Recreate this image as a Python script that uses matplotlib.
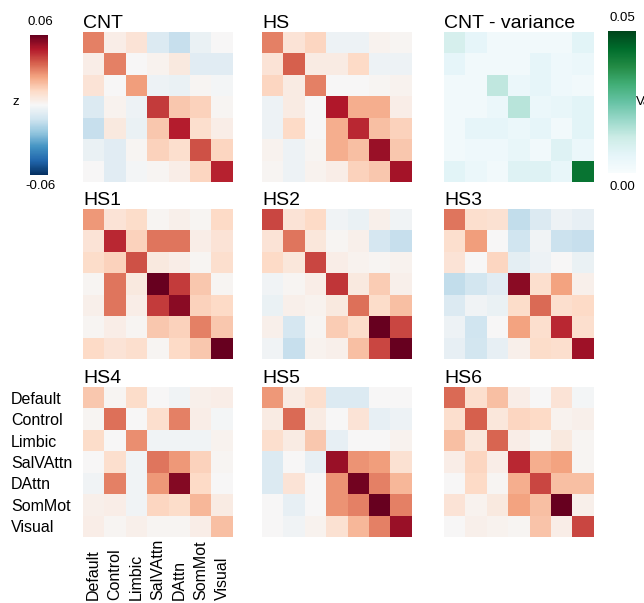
import numpy as np
import matplotlib
matplotlib.use("Agg")
import matplotlib.pyplot as plt

plt.rcParams['font.family'] = ['Liberation Sans', 'DejaVu Sans']

networks = ['Default', 'Control', 'Limbic', 'SalVAttn', 'DAttn', 'SomMot', 'Visual']

cnt = [
    [0.030, 0.004, 0.008, -0.008, -0.014, -0.004, 0.000],
    [0.004, 0.030, 0.000, 0.002, 0.006, -0.007, -0.007],
    [0.008, 0.000, 0.025, -0.003, -0.004, 0.001, -0.001],
    [-0.008, 0.002, -0.003, 0.042, 0.016, 0.014, 0.001],
    [-0.014, 0.006, -0.004, 0.016, 0.047, 0.010, 0.004],
    [-0.004, -0.007, 0.001, 0.014, 0.010, 0.038, 0.013],
    [0.000, -0.007, -0.001, 0.001, 0.004, 0.013, 0.046],
]
hs = [
    [0.030, 0.008, 0.013, -0.003, -0.003, 0.002, 0.001],
    [0.008, 0.036, 0.005, 0.005, 0.012, -0.003, -0.003],
    [0.013, 0.005, 0.030, 0.000, 0.000, 0.001, 0.002],
    [-0.003, 0.005, 0.000, 0.048, 0.022, 0.022, 0.004],
    [-0.003, 0.012, 0.000, 0.022, 0.045, 0.018, 0.014],
    [0.002, -0.003, 0.001, 0.022, 0.018, 0.052, 0.016],
    [0.001, -0.003, 0.002, 0.004, 0.014, 0.016, 0.050],
]
cnt_var = [
    [0.010, 0.006, 0.002, 0.002, 0.002, 0.002, 0.007],
    [0.006, 0.002, 0.002, 0.002, 0.006, 0.003, 0.004],
    [0.002, 0.002, 0.014, 0.004, 0.006, 0.003, 0.002],
    [0.002, 0.002, 0.004, 0.015, 0.004, 0.005, 0.007],
    [0.002, 0.006, 0.006, 0.004, 0.006, 0.002, 0.007],
    [0.002, 0.003, 0.003, 0.005, 0.002, 0.008, 0.004],
    [0.007, 0.004, 0.002, 0.008, 0.008, 0.005, 0.042],
]
hs1 = [
    [0.026, 0.008, 0.011, 0.001, 0.003, 0.001, 0.012],
    [0.008, 0.045, 0.014, 0.032, 0.032, 0.004, 0.008],
    [0.011, 0.014, 0.038, 0.006, 0.004, 0.001, 0.010],
    [0.001, 0.032, 0.006, 0.060, 0.042, 0.016, 0.001],
    [0.003, 0.032, 0.004, 0.042, 0.054, 0.014, 0.012],
    [0.001, 0.004, 0.001, 0.016, 0.014, 0.030, 0.016],
    [0.012, 0.008, 0.010, 0.001, 0.012, 0.016, 0.060],
]
hs2 = [
    [0.040, 0.008, 0.012, -0.002, -0.004, 0.003, -0.002],
    [0.008, 0.032, 0.007, 0.001, 0.003, -0.010, -0.014],
    [0.012, 0.007, 0.040, 0.004, 0.002, 0.001, 0.002],
    [-0.002, 0.001, 0.004, 0.043, 0.006, 0.015, 0.003],
    [-0.004, 0.003, 0.002, 0.006, 0.033, 0.011, 0.018],
    [0.003, -0.010, 0.001, 0.015, 0.011, 0.062, 0.040],
    [-0.002, -0.014, 0.002, 0.003, 0.018, 0.040, 0.062],
]
hs3 = [
    [0.032, 0.010, 0.009, -0.015, -0.008, -0.003, -0.005],
    [0.010, 0.025, 0.000, -0.012, -0.002, -0.013, -0.014],
    [0.008, 0.000, 0.013, -0.006, -0.003, 0.000, -0.004],
    [-0.015, -0.011, -0.007, 0.054, 0.010, 0.024, 0.003],
    [-0.008, -0.002, -0.004, 0.011, 0.034, 0.010, 0.012],
    [-0.003, -0.012, 0.000, 0.024, 0.010, 0.045, 0.010],
    [-0.005, -0.011, -0.005, 0.003, 0.011, 0.010, 0.051],
]
hs4 = [
    [0.016, 0.001, 0.011, 0.000, -0.002, 0.003, 0.004],
    [0.001, 0.033, 0.000, 0.010, 0.030, 0.004, -0.001],
    [0.011, 0.000, 0.028, -0.002, -0.002, -0.002, 0.002],
    [0.000, 0.010, -0.002, 0.032, 0.026, 0.014, 0.001],
    [-0.002, 0.030, -0.002, 0.026, 0.055, 0.012, 0.000],
    [0.003, 0.004, -0.002, 0.013, 0.011, 0.020, 0.005],
    [0.004, 0.001, 0.003, 0.001, 0.001, 0.004, 0.018],
]
hs5 = [
    [0.026, 0.005, 0.010, -0.008, -0.008, 0.000, 0.000],
    [0.005, 0.034, 0.005, 0.000, 0.008, -0.005, -0.003],
    [0.010, 0.005, 0.016, -0.005, 0.000, 0.000, 0.002],
    [-0.008, 0.000, -0.005, 0.052, 0.027, 0.025, 0.009],
    [-0.008, 0.008, 0.000, 0.027, 0.058, 0.030, 0.020],
    [0.000, -0.005, 0.000, 0.027, 0.030, 0.062, 0.030],
    [0.000, -0.002, 0.002, 0.009, 0.020, 0.030, 0.052],
]
hs6 = [
    [0.034, 0.010, 0.018, 0.004, 0.000, 0.008, -0.001],
    [0.010, 0.036, 0.007, 0.013, 0.012, 0.002, 0.003],
    [0.018, 0.007, 0.035, 0.004, 0.001, 0.006, 0.001],
    [0.004, 0.013, 0.004, 0.045, 0.022, 0.024, 0.001],
    [0.000, 0.012, 0.001, 0.022, 0.040, 0.018, 0.018],
    [0.008, 0.002, 0.006, 0.024, 0.018, 0.062, 0.003],
    [0.000, 0.003, 0.002, 0.001, 0.017, 0.004, 0.040],
]

W, H = 644, 603


def px_axes(fig, x, y, w, h):
    # pixel box (top-left origin) -> figure axes
    return fig.add_axes([x / W, 1 - (y + h) / H, w / W, h / H])


def main():
    fig = plt.figure(figsize=(W / 100, H / 100), dpi=100)

    panels = [
        ('CNT', cnt, 'RdBu_r', -0.06, 0.06),
        ('HS', hs, 'RdBu_r', -0.06, 0.06),
        ('CNT - variance', cnt_var, 'BuGn', 0.0, 0.05),
        ('HS1', hs1, 'RdBu_r', -0.06, 0.06),
        ('HS2', hs2, 'RdBu_r', -0.06, 0.06),
        ('HS3', hs3, 'RdBu_r', -0.06, 0.06),
        ('HS4', hs4, 'RdBu_r', -0.06, 0.06),
        ('HS5', hs5, 'RdBu_r', -0.06, 0.06),
        ('HS6', hs6, 'RdBu_r', -0.06, 0.06),
    ]
    xs = [83, 262, 444]
    ys = [32, 209, 387]
    size = 150

    ims = {}
    for i, (title, data, cmap, vmin, vmax) in enumerate(panels):
        r, c = divmod(i, 3)
        ax = px_axes(fig, xs[c], ys[r], size, size)
        im = ax.imshow(np.array(data), cmap=cmap, vmin=vmin, vmax=vmax,
                       aspect='auto', interpolation='nearest')
        ims[cmap] = im
        for s in ax.spines.values():
            s.set_visible(False)
        ax.set_title(title, loc='left', fontsize=14, pad=3)
        if title == 'HS4':
            ax.set_xticks(range(len(networks)))
            ax.set_xticklabels(networks, rotation=90, fontsize=11.5, va='bottom')
            ax.set_yticks(range(len(networks)))
            ax.set_yticklabels(networks, fontsize=11.5, ha='left')
            ax.tick_params(length=0, axis='y', pad=52)
            ax.tick_params(length=0, axis='x', pad=45)
        else:
            ax.set_xticks([])
            ax.set_yticks([])

    # left colorbar (z)
    cax = px_axes(fig, 30, 35, 18, 140)
    cb = fig.colorbar(ims['RdBu_r'], cax=cax)
    cb.set_ticks([])
    cb.outline.set_visible(False)
    fig.text(40 / W, 1 - 22 / H, '0.06', ha='center', va='center', fontsize=9.5)
    fig.text(40 / W, 1 - 186 / H, '-0.06', ha='center', va='center', fontsize=9.5)
    fig.text(16 / W, 1 - 102 / H, 'z', ha='center', va='center', fontsize=9.5)

    # right colorbar (variance)
    cax2 = px_axes(fig, 608, 31, 28, 142)
    cb2 = fig.colorbar(ims['BuGn'], cax=cax2)
    cb2.set_ticks([])
    cb2.outline.set_visible(False)
    fig.text(622 / W, 1 - 18 / H, '0.05', ha='center', va='center', fontsize=9.5)
    fig.text(622 / W, 1 - 187 / H, '0.00', ha='center', va='center', fontsize=9.5)
    fig.text(636 / W, 1 - 102 / H, 'Variance', ha='left', va='center', fontsize=9.5)

    fig.savefig('out.png', dpi=100)


if __name__ == "__main__":
    main()
